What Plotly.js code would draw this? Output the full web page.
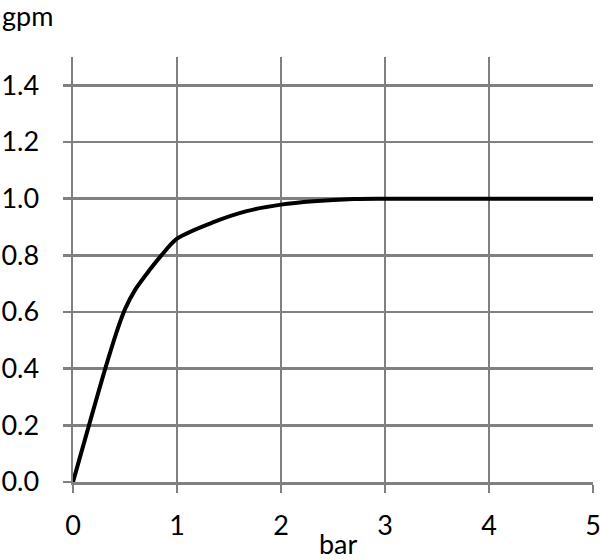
<!DOCTYPE html>
<html><head><meta charset="utf-8">
<script src="https://cdn.plot.ly/plotly-3.0.1.min.js"></script>
<style>html,body{margin:0;padding:0;background:#fff}#chart{width:600px;height:560px}</style>
</head><body><div id="chart"></div>
<script>
var pressureBar = [0, 0.31, 0.42, 0.50, 0.60, 0.74, 0.85, 1.0, 1.35, 1.67, 2.0, 2.31, 2.7, 3, 4, 5];
var flowGpm = [0, 0.40, 0.53, 0.61, 0.68, 0.75, 0.80, 0.859, 0.917, 0.956, 0.979, 0.991, 0.999, 1.0, 1.0, 1.0];
var yTicks = [0, 0.2, 0.4, 0.6, 0.8, 1.0, 1.2, 1.4];
var yTickText = ['0.0', '0.2', '0.4', '0.6', '0.8', '1.0', '1.2', '1.4'];
var xTicks = [0, 1, 2, 3, 4, 5];
var xTitle = 'bar';
var yTitle = 'gpm';

var grid = '#808080';
var font = {family: 'Lato, "Liberation Sans", sans-serif', size: 27, color: '#000'};

Plotly.newPlot('chart', [{
  x: pressureBar, y: flowGpm, type: 'scatter', mode: 'lines',
  line: {color: '#000', width: 4, shape: 'spline', smoothing: 0.8},
  hoverinfo: 'skip'
}], {
  width: 600, height: 560,
  margin: {l: 73, r: 7, t: 57, b: 78, pad: 0},
  paper_bgcolor: '#fff', plot_bgcolor: '#fff',
  showlegend: false,
  font: font,
  xaxis: {
    range: [0, 5], tickvals: xTicks, ticktext: xTicks.map(String),
    showgrid: true, gridcolor: grid, gridwidth: 2.5,
    showline: true, linecolor: grid, linewidth: 2.5,
    zeroline: false, ticks: 'outside', ticklen: 8, tickwidth: 2.5, tickcolor: grid,
    ticklabelstandoff: 10, ticklabeloverflow: 'allow',
    tickfont: font
  },
  yaxis: {
    range: [0, 1.5], tickvals: yTicks, ticktext: yTickText,
    showgrid: true, gridcolor: grid, gridwidth: 2.5,
    showline: true, linecolor: grid, linewidth: 2.5,
    zeroline: false, ticks: 'outside', ticklen: 8, tickwidth: 2.5, tickcolor: grid,
    ticklabelstandoff: 18, ticklabeloverflow: 'allow',
    tickfont: font
  },
  annotations: [
    {text: yTitle, xref: 'paper', yref: 'paper', x: -73/520, y: 1 + 57/425, xanchor: 'left', yanchor: 'top', yshift: 3, showarrow: false, font: font},
    {text: xTitle, xref: 'paper', yref: 'paper', x: (338-73)/520, y: -78/425, xanchor: 'center', yanchor: 'bottom', yshift: -2, showarrow: false, font: font}
  ]
}, {staticPlot: true, displayModeBar: false});
</script>
</body></html>
